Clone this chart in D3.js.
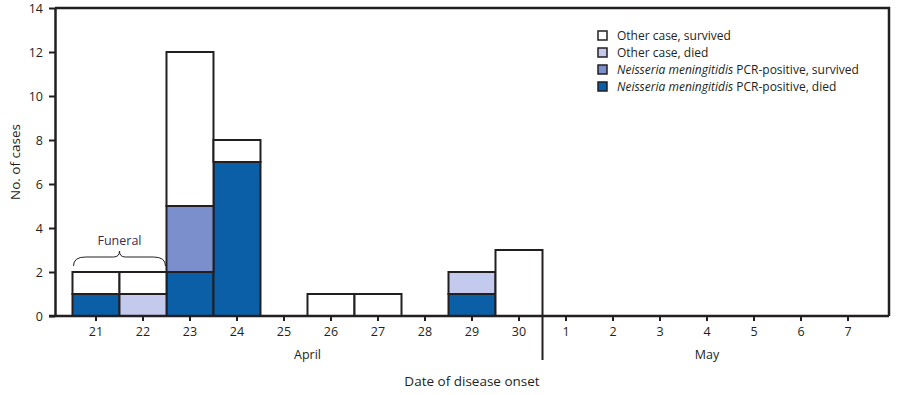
<!DOCTYPE html>
<html>
<head>
<meta charset="utf-8">
<script src="https://cdn.jsdelivr.net/npm/d3@7"></script>
<style>
  body { margin: 0; background: #fff; }
  text { font-family: "Open Sans", sans-serif; fill: #231f20; }
</style>
</head>
<body>
<svg id="chart" width="900" height="395"></svg>
<script>
// categories : days of onset (April 21-30, May 1-7)
var days = ['21','22','23','24','25','26','27','28','29','30','1','2','3','4','5','6','7'];
var months = ['April', 'May'];
// series, stacked bottom to top
var nmDied      = [1,0,2,7,0,0,0,0,1,0,0,0,0,0,0,0,0];
var nmSurvived  = [0,0,3,0,0,0,0,0,0,0,0,0,0,0,0,0,0];
var otherDied   = [0,1,0,0,0,0,0,0,1,0,0,0,0,0,0,0,0];
var otherSurv   = [1,1,7,1,0,1,1,0,0,3,0,0,0,0,0,0,0];
var yTicks = [0,2,4,6,8,10,12,14];

var seriesNames = ['nmDied','nmSurvived','otherDied','otherSurv'];
var colors = { nmDied: '#0b5fa7', nmSurvived: '#7b8fcd', otherDied: '#c4caed', otherSurv: '#ffffff' };

var rows = days.map(function(d, i){
  return { day: d, nmDied: nmDied[i], nmSurvived: nmSurvived[i], otherDied: otherDied[i], otherSurv: otherSurv[i] };
});

// plot edges (window.top is read-only, so no "top" here)
var pLeft = 55, pRight = 889, pTop = 8, pBottom = 316 ;

var svg = d3.select('#chart');

var x = d3.scaleBand().domain(days).range([pLeft, pRight]).paddingInner(0).paddingOuter(0.372);
var y = d3.scaleLinear().domain([0, 14]).range([pBottom, pTop]);

// frame (top and right)
svg.append('path')
  .attr('d', 'M' + pLeft + ',' + pTop + 'H' + pRight + 'V' + pBottom)
  .attr('fill', 'none').attr('stroke', '#231f20').attr('stroke-width', 2.5);

// bars
var stacked = d3.stack().keys(seriesNames)(rows);
svg.append('g').selectAll('g')
  .data(stacked).join('g')
  .attr('fill', function(s){ return colors[s.key]; })
  .selectAll('rect')
  .data(function(s){ return s.filter(function(p){ return p[1] - p[0] > 0; }); })
  .join('rect')
  .attr('x', function(p){ return x(p.data.day); })
  .attr('width', x.bandwidth())
  .attr('y', function(p){ return y(p[1]); })
  .attr('height', function(p){ return y(p[0]) - y(p[1]); })
  .attr('stroke', '#231f20').attr('stroke-width', 2);

// y axis
var yAxis = svg.append('g').attr('transform', 'translate(' + pLeft + ',0)')
  .call(d3.axisLeft(y).tickValues(yTicks).tickSize(6).tickPadding(6).tickSizeOuter(0));
yAxis.select('.domain').attr('stroke', '#231f20').attr('stroke-width', 2.5);
yAxis.selectAll('.tick line').attr('stroke', '#231f20').attr('stroke-width', 2);
yAxis.selectAll('.tick text').style('font-size', '12.5px').style('font-family', '"Open Sans", sans-serif').attr('fill', '#231f20');

// x axis
var xAxis = svg.append('g').attr('transform', 'translate(0,' + pBottom + ')')
  .call(d3.axisBottom(x).tickSize(5).tickPadding(6).tickSizeOuter(0));
xAxis.select('.domain').attr('d', 'M' + (pLeft - 6) + ',0H' + pRight).attr('stroke', '#231f20').attr('stroke-width', 2.5);
xAxis.selectAll('.tick line').attr('stroke', '#231f20').attr('stroke-width', 2);
xAxis.selectAll('.tick text').style('font-size', '12.5px').style('font-family', '"Open Sans", sans-serif').attr('fill', '#231f20');

// month divider between 30 and 1
var divX = x('1') ;
svg.append('line').attr('x1', divX).attr('x2', divX).attr('y1', pBottom).attr('y2', pBottom + 44)
  .attr('stroke', '#231f20').attr('stroke-width', 2);

// month labels
svg.append('text').attr('x', (x('21') + divX) / 2).attr('y', 359).attr('text-anchor', 'middle')
  .style('font-size', '12.5px').text(months[0]);
svg.append('text').attr('x', (divX + x('7') + x.bandwidth()) / 2).attr('y', 359).attr('text-anchor', 'middle')
  .style('font-size', '12.5px').text(months[1]);

// axis titles
svg.append('text').attr('x', 472).attr('y', 386).attr('text-anchor', 'middle')
  .style('font-size', '13.5px').text('Date of disease onset');
svg.append('text').attr('transform', 'translate(20,' + ((pTop + pBottom) / 2) + ') rotate(-90)')
  .attr('text-anchor', 'middle').style('font-size', '13.5px').text('No. of cases');

// funeral brace over 21-22
var bx0 = x('21') + 1, bx1 = x('22') + x.bandwidth() - 1, by = y(2) - 6, bmid = (bx0 + bx1) / 2;
svg.append('path')
  .attr('d', 'M' + bx0 + ',' + by +
    'Q' + bx0 + ',' + (by - 9) + ' ' + (bx0 + 12) + ',' + (by - 9) +
    'H' + (bmid - 6) +
    'Q' + bmid + ',' + (by - 9) + ' ' + bmid + ',' + (by - 15) +
    'Q' + bmid + ',' + (by - 9) + ' ' + (bmid + 6) + ',' + (by - 9) +
    'H' + (bx1 - 12) +
    'Q' + bx1 + ',' + (by - 9) + ' ' + bx1 + ',' + by)
  .attr('fill', 'none').attr('stroke', '#231f20').attr('stroke-width', 1);
svg.append('text').attr('x', bmid).attr('y', by - 21).attr('text-anchor', 'middle')
  .style('font-size', '12.5px').style('fill', '#3b2d4f').text('Funeral');

// legend
var legendItems = [
  { key: 'otherSurv', italic: '', rest: 'Other case, survived' },
  { key: 'otherDied', italic: '', rest: 'Other case, died' },
  { key: 'nmSurvived', italic: 'Neisseria meningitidis', rest: ' PCR-positive, survived' },
  { key: 'nmDied', italic: 'Neisseria meningitidis', rest: ' PCR-positive, died' }
];
var legend = svg.append('g').attr('transform', 'translate(598,31)');
var li = legend.selectAll('g').data(legendItems).join('g')
  .attr('transform', function(d, i){ return 'translate(0,' + (i * 17) + ')'; });
li.append('rect').attr('width', 9).attr('height', 9)
  .attr('fill', function(d){ return colors[d.key]; })
  .attr('stroke', '#231f20').attr('stroke-width', 1.5);
var lt = li.append('text').attr('x', 19).attr('y', 9).style('font-size', '12px');
lt.append('tspan').style('font-style', 'italic').text(function(d){ return d.italic; });
lt.append('tspan').text(function(d){ return d.rest; });
</script>
</body>
</html>
